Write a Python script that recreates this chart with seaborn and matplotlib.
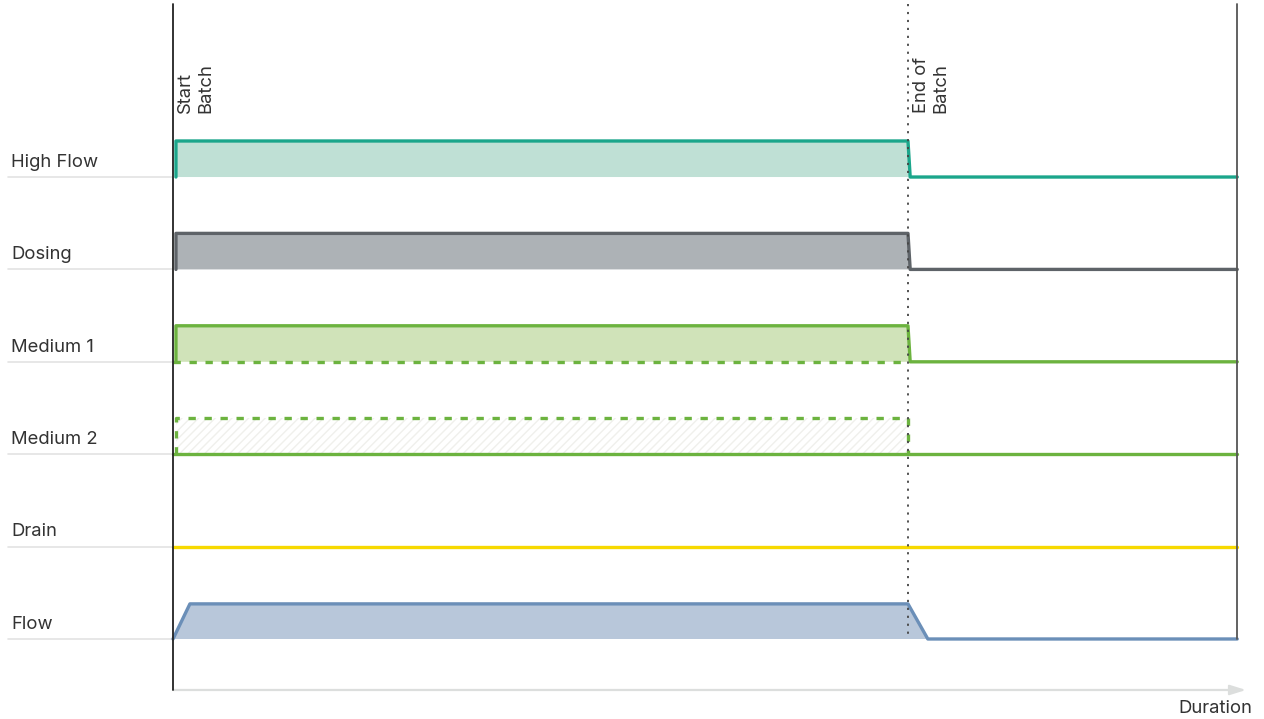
import numpy as np
import pandas as pd
import matplotlib
matplotlib.use("Agg")
import matplotlib.pyplot as plt
import seaborn as sns

# Données : canaux du batch (de haut en bas)
canaux = ["High Flow", "Dosing", "Medium 1", "Medium 2", "Drain", "Flow"]
couleurs_ligne = ["#1ba68b", "#5e6368", "#6cb33f", "#6cb33f", "#f7d900", "#6b8fb8"]
couleurs_fond = ["#bfe0d5", "#adb2b6", "#d0e3b9", "#f2f2ef", None, "#b8c7da"]

# temps (unités arbitraires) : début / fin du batch / fin de la durée
T_DEBUT = 0.0
T_FIN = 10.0
T_TOTAL = 14.48

# instants de montée / descente de chaque signal (None = pas d'impulsion)
t_montee_debut = [0.04, 0.04, 0.04, 0.04, None, 0.0]
t_montee_fin = [0.04, 0.04, 0.04, 0.04, None, 0.23]
t_descente_debut = [10.0, 10.0, 10.0, 10.0, None, 10.0]
t_descente_fin = [10.03, 10.03, 10.03, 10.0, None, 10.27]
hauteur = [0.39, 0.39, 0.39, 0.39, 0.0, 0.38]

ESPACEMENT = 1.0

sns.set_theme(style="white")
plt.rcParams["font.family"] = ["Inter", "DejaVu Sans"]

fig = plt.figure(figsize=(12.64, 7.19), dpi=100)
ax = fig.add_axes([0, 0, 1, 1])
ax.set_xlim(-2.354, 14.844)
ax.set_ylim(-5.866, 1.916)
ax.axis("off")

TEXTE = "#333333"
TAILLE = 13.3

for i, nom in enumerate(canaux):
    base = -i * ESPACEMENT
    c = couleurs_ligne[i]
    # séparateur gris à gauche + libellé
    ax.plot([-2.245, T_DEBUT], [base, base], color="#e3e3e3", lw=1.2, zorder=1)
    ax.text(-2.204, base + 0.16, nom, fontsize=TAILLE, color=TEXTE,
            ha="left", va="center")

    if t_montee_debut[i] is None:
        sns.lineplot(x=[T_DEBUT, T_TOTAL], y=[base, base], color=c, lw=2.4,
                     ax=ax, estimator=None, sort=False, zorder=3)
        continue

    h = base + hauteur[i]
    xs = [t_montee_debut[i], t_montee_fin[i], t_descente_debut[i], t_descente_fin[i]]
    ys = [base, h, h, base]
    df = pd.DataFrame({"t": xs + [T_TOTAL], "v": ys + [base]})

    if nom == "Medium 2":
        # impulsion optionnelle : rectangle pointillé hachuré
        ax.fill(xs, ys, facecolor="white", edgecolor="#f0f0ec", hatch="////",
                lw=0, zorder=2)
        sns.lineplot(x=xs, y=ys, color=c, lw=2.4, linestyle=(0, (2.2, 2.6)),
                     ax=ax, estimator=None, sort=False, zorder=3)
        sns.lineplot(x=[T_DEBUT, T_TOTAL], y=[base, base], color=c, lw=2.4,
                     ax=ax, estimator=None, sort=False, zorder=4)
        continue

    ax.fill(xs, ys, color=couleurs_fond[i], lw=0, zorder=2)
    sns.lineplot(data=df, x="t", y="v", color=c, lw=2.4, ax=ax,
                 estimator=None, sort=False, zorder=3,
                 solid_joinstyle="round", solid_capstyle="round")
    if nom == "Medium 1":
        sns.lineplot(x=[T_DEBUT, T_FIN], y=[base, base], color=c, lw=2.4,
                     linestyle=(0, (2.2, 2.6)), ax=ax, estimator=None,
                     sort=False, zorder=3)

# axes verticaux
y_haut = 1.87
y_bas_axe = (177 - 690) / 92.4
y_flow = -5 * ESPACEMENT
ax.plot([T_DEBUT, T_DEBUT], [y_haut, y_bas_axe], color="#222222", lw=1.3, zorder=5)
ax.plot([T_TOTAL, T_TOTAL], [y_haut, y_flow], color="#555555", lw=1.3, zorder=5)
ax.plot([T_FIN, T_FIN], [y_haut, y_flow], color="#444444", lw=1.3,
        linestyle=(0, (1.2, 3.2)), zorder=6)

# axe des durées
ax.annotate("", xy=(14.60, y_bas_axe), xytext=(T_DEBUT, y_bas_axe),
            arrowprops=dict(arrowstyle="-|>,head_length=0.8,head_width=0.25",
                            color="#dcdedd", lw=1.6, shrinkA=0, shrinkB=0),
            zorder=1)
ax.text(14.69, y_bas_axe - 0.2, "Duration", fontsize=TAILLE, color=TEXTE,
        ha="right", va="center")

# repères début / fin
ax.text(0.06, (177 - 113) / 92.4, "Start\nBatch", rotation=90, fontsize=TAILLE,
        color=TEXTE, ha="left", va="bottom", linespacing=1.2)
ax.text(10.07, (177 - 113) / 92.4, "End of\nBatch", rotation=90, fontsize=TAILLE,
        color=TEXTE, ha="left", va="bottom", linespacing=1.2)

plt.savefig("out.png", dpi=100)
plt.close()
